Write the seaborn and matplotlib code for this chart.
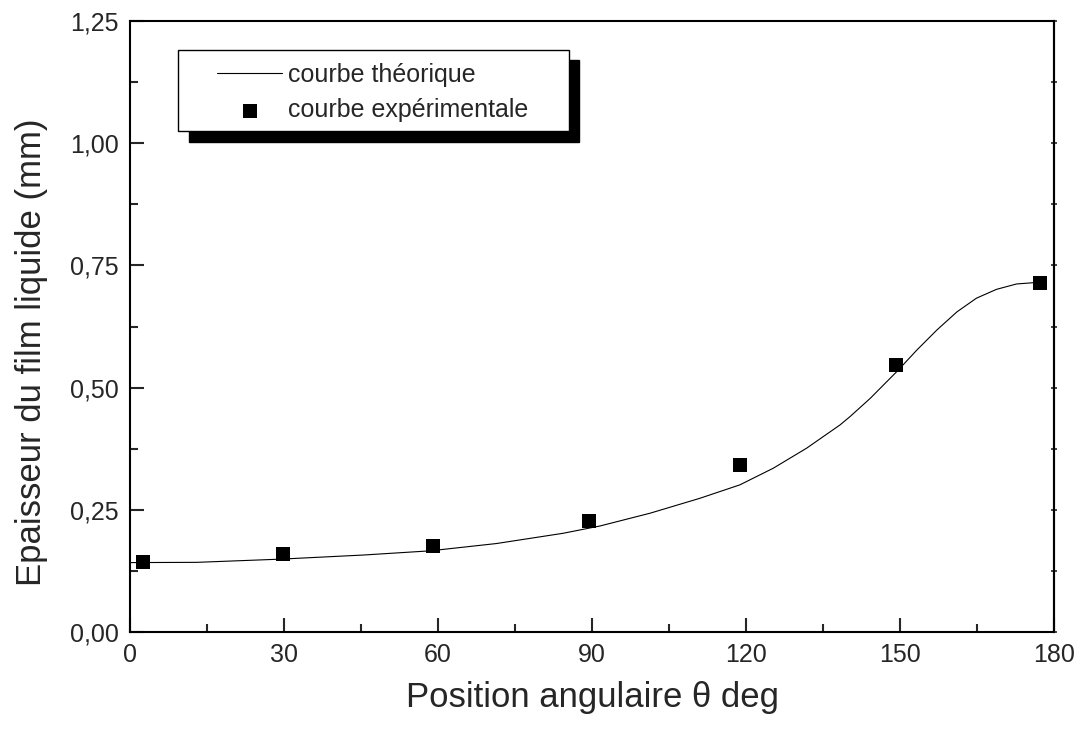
import numpy as np
import pandas as pd
import matplotlib
matplotlib.use("Agg")
import matplotlib.pyplot as plt
from matplotlib.patches import Rectangle
from matplotlib.ticker import FixedLocator, MultipleLocator, FixedFormatter
import seaborn as sns

# ---- data ----
theory_x = [0, 13, 29.2, 45.5, 58.4, 71.4, 84.4, 91.6, 101.3, 111.0, 118.8,
            125.3, 131.8, 138.3, 140.3, 144.2, 149.4, 153.3, 157.2, 161.1,
            164.9, 168.8, 172.7, 176.0, 177.3]
theory_y = [0.142, 0.1425, 0.149, 0.1575, 0.166, 0.181, 0.202, 0.217, 0.243,
            0.2735, 0.301, 0.335, 0.376, 0.4235, 0.441, 0.478, 0.533, 0.577,
            0.618, 0.655, 0.683, 0.701, 0.712, 0.7146, 0.715]

exp_x = [2.5, 29.9, 59.1, 89.5, 118.9, 149.3, 177.3]
exp_y = [0.1425, 0.159, 0.1766, 0.228, 0.342, 0.546, 0.713]

xticks = [0, 30, 60, 90, 120, 150, 180]
xtick_labels = ["0", "30", "60", "90", "120", "150", "180"]
yticks = [0.0, 0.25, 0.5, 0.75, 1.0, 1.25]
ytick_labels = ["0,00", "0,25", "0,50", "0,75", "1,00", "1,25"]

series_labels = ["courbe théorique", "courbe expérimentale"]
x_label = "Position angulaire θ deg"
y_label = "Epaisseur du film liquide (mm)"

# ---- style ----
sns.set_style("white")
plt.rcParams["font.family"] = ["Liberation Sans", "DejaVu Sans"]

W, H = 1083, 731
fig = plt.figure(figsize=(W / 100, H / 100), dpi=100)
ax = fig.add_axes([130 / W, 1 - 632 / H, (1054 - 130) / W, (632 - 21) / H])

df_t = pd.DataFrame({"x": theory_x, "y": theory_y})
df_e = pd.DataFrame({"x": exp_x, "y": exp_y})

sns.lineplot(data=df_t, x="x", y="y", ax=ax, color="black", linewidth=0.8,
             label=series_labels[0], legend=False)
sns.scatterplot(data=df_e, x="x", y="y", ax=ax, color="black", marker="s",
                s=88, linewidth=0, label=series_labels[1], legend=False, zorder=3)

ax.set_xlim(0, 180)
ax.set_ylim(0, 1.25)

ax.xaxis.set_major_locator(FixedLocator(xticks))
ax.xaxis.set_major_formatter(FixedFormatter(xtick_labels))
ax.xaxis.set_minor_locator(MultipleLocator(15))
ax.yaxis.set_major_locator(FixedLocator(yticks))
ax.yaxis.set_major_formatter(FixedFormatter(ytick_labels))
ax.yaxis.set_minor_locator(MultipleLocator(0.125))

ax.tick_params(which="major", direction="in", length=10, width=1.5,
               labelsize=18, pad=8, left=True, bottom=True, top=False, right=False)
ax.tick_params(which="minor", direction="in", length=6, width=1.5,
               left=True, bottom=True, top=False, right=False)

for sp in ax.spines.values():
    sp.set_visible(True)
    sp.set_linewidth(1.5)
    sp.set_color("black")

# tiny ticks on right side
sec = ax.secondary_yaxis("right")
sec.yaxis.set_major_locator(MultipleLocator(0.125))
sec.tick_params(which="major", direction="inout", length=4, width=1.2,
                labelright=False)
sec.spines["right"].set_linewidth(1.5)

ax.set_xlabel(x_label, fontsize=25)
ax.xaxis.set_label_coords((592 - 130) / 924, -(707 - 632) / 611)
ax.xaxis.label.set_verticalalignment("baseline")
ax.set_ylabel(y_label, fontsize=25)
ax.yaxis.set_label_coords((48 - 130) / 924, (632 - 352) / 611)

# legend box with shadow (figure pixel coordinates)
def fx(px):
    return px / W

def fy(py):
    return 1 - py / H

shadow = Rectangle((fx(189), fy(142)), fx(579) - fx(189), fy(60) - fy(142),
                   transform=fig.transFigure, facecolor="black",
                   edgecolor="black", zorder=3)
box = Rectangle((fx(178), fy(131)), fx(569) - fx(178), fy(50) - fy(131),
                transform=fig.transFigure, facecolor="white",
                edgecolor="black", linewidth=1.0, zorder=4)
fig.add_artist(shadow)
fig.add_artist(box)

handles, labels = ax.get_legend_handles_labels()
leg = fig.legend(handles, labels, loc="center left",
                 bbox_to_anchor=(fx(217), fy(92.5)), bbox_transform=fig.transFigure,
                 frameon=False, fontsize=18, handlelength=2.6, handletextpad=0.25,
                 borderpad=0, borderaxespad=0, labelspacing=0.45,
                 scatterpoints=1, markerscale=1.0)
leg.set_zorder(5)

fig.savefig("out.png", dpi=100, facecolor="white")
